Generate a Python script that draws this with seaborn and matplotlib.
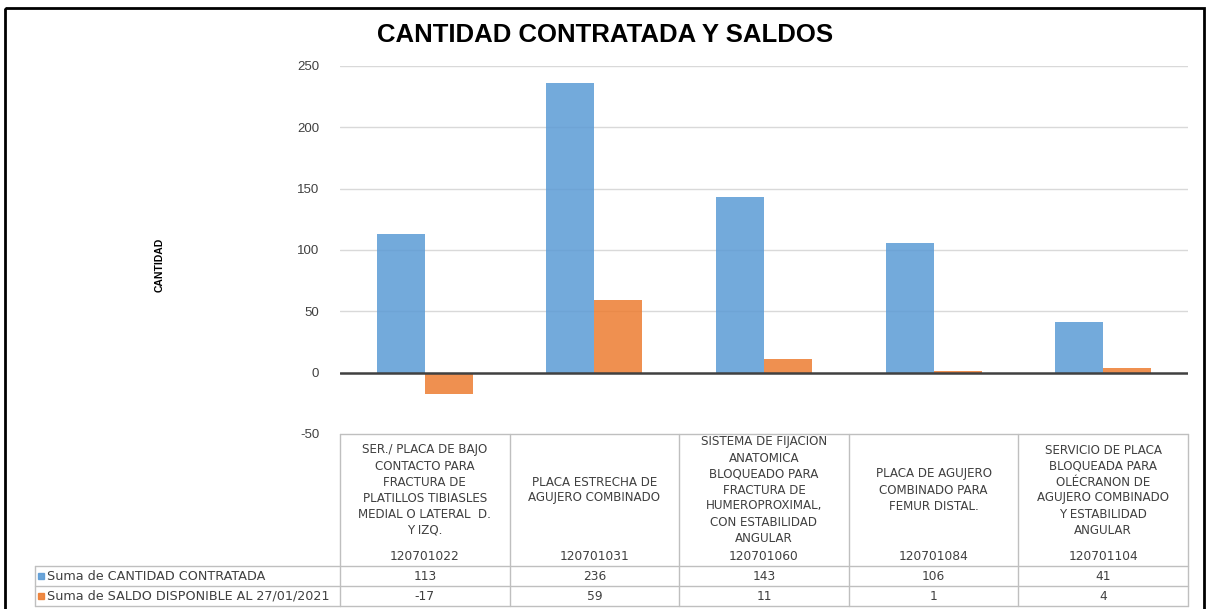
import numpy as np
import pandas as pd
import matplotlib
matplotlib.use("Agg")
import matplotlib.pyplot as plt
import matplotlib.transforms as mtransforms
from matplotlib.patches import Rectangle
import seaborn as sns

# ----------------------------------------------------------------------
# DATA
# ----------------------------------------------------------------------
codes = ["120701022", "120701031", "120701060", "120701084", "120701104"]
descriptions = [
    "SER./ PLACA DE BAJO\nCONTACTO PARA\nFRACTURA DE\nPLATILLOS TIBIASLES\nMEDIAL O LATERAL  D.\nY IZQ.",
    "PLACA ESTRECHA DE\nAGUJERO COMBINADO",
    "SISTEMA DE FIJACION\nANATOMICA\nBLOQUEADO PARA\nFRACTURA DE\nHUMEROPROXIMAL,\nCON ESTABILIDAD\nANGULAR",
    "PLACA DE AGUJERO\nCOMBINADO PARA\nFEMUR DISTAL.",
    "SERVICIO DE PLACA\nBLOQUEADA PARA\nOLÉCRANON DE\nAGUJERO COMBINADO\nY ESTABILIDAD\nANGULAR",
]
series_names = ["Suma de CANTIDAD CONTRATADA", "Suma de SALDO DISPONIBLE AL 27/01/2021"]
cantidad_contratada = [113, 236, 143, 106, 41]
saldo_disponible = [-17, 59, 11, 1, 4]
y_ticks = [-50, 0, 50, 100, 150, 200, 250]

BLUE = "#5B9BD5"
ORANGE = "#ED7D31"
GRID = "#D9D9D9"
TABLE_LINE = "#BFBFBF"
TEXT = "#404040"
TABLE_FONT = ["DejaVu Sans"]

df = pd.DataFrame({
    "codigo": codes * 2,
    "serie": [series_names[0]] * 5 + [series_names[1]] * 5,
    "valor": cantidad_contratada + saldo_disponible,
})

sns.set_theme(style="white")
plt.rcParams["font.family"] = ["Liberation Sans", "DejaVu Sans"]

W, H = 1208, 609
fig = plt.figure(figsize=(W / 100, H / 100), dpi=100)

# overlay in pixel coordinates for border / table
ov = fig.add_axes([0, 0, 1, 1], zorder=0)
ov.set_xlim(0, W)
ov.set_ylim(H, 0)
ov.axis("off")

# main plot area (pixels: x 340-1188, y 66-434)
ax = fig.add_axes([340 / W, 1 - 434 / H, 848 / W, 368 / H], zorder=1)
ax.patch.set_alpha(0)

sns.barplot(
    data=df, x="codigo", y="valor", hue="serie", order=codes,
    hue_order=series_names, palette=[BLUE, ORANGE], width=0.566,
    saturation=1, ax=ax, legend=False, alpha=0.85, edgecolor="none", zorder=3,
)

ax.set_xlim(-0.5, len(codes) - 0.5)
ax.set_ylim(-50, 250)
ax.set_yticks(y_ticks)
ax.set_yticklabels([str(t) for t in y_ticks], fontsize=9.5, color=TEXT)
ax.tick_params(axis="y", length=0, pad=15)
ax.set_xticks([])
ax.set_xlabel("")
ax.set_ylabel("")
for t in y_ticks:
    if t not in (0, -50):
        ax.axhline(t, color=GRID, lw=1, zorder=1)
ax.axhline(0, color="#404040", lw=1.8, zorder=4)
for s in ax.spines.values():
    s.set_visible(False)

# title and axis label
fig.text(605 / W, 1 - 35 / H, "CANTIDAD CONTRATADA Y SALDOS", ha="center",
         va="center", fontsize=18.5, fontweight="bold", color="black")
fig.text(160 / W, 1 - 265 / H, "CANTIDAD", rotation=90, ha="center",
         va="center", fontsize=7.5, fontweight="bold", color="black",
         family=["Liberation Sans Narrow", "Liberation Sans", "DejaVu Sans"])

# outer border
ov.add_patch(Rectangle((5, 8), 1199, 610, fill=False, ec="black", lw=2))

# ----------------------------------------------------------------------
# DATA TABLE
# ----------------------------------------------------------------------
tr = mtransforms.blended_transform_factory(ax.transData, ov.transData)
n = len(codes)
top, hdr_bot, r1_bot, r2_bot = 434, 566, 586, 606
leg_left = 35

# horizontal lines
ov.plot([-0.5, n - 0.5], [top, top], color=TABLE_LINE, lw=1, transform=tr)
for yy in (hdr_bot, r1_bot, r2_bot):
    ov.plot([leg_left, 340], [yy, yy], color=TABLE_LINE, lw=1)
    ov.plot([-0.5, n - 0.5], [yy, yy], color=TABLE_LINE, lw=1, transform=tr)
# vertical lines
for i in range(n + 1):
    ov.plot([i - 0.5, i - 0.5], [top, r2_bot], color=TABLE_LINE, lw=1, transform=tr)
ov.plot([leg_left, leg_left], [hdr_bot, r2_bot], color=TABLE_LINE, lw=1)

for i in range(n):
    ov.text(i, 490, descriptions[i], transform=tr, ha="center", va="center",
            fontsize=8.6, color=TEXT, linespacing=1.3, family=TABLE_FONT)
    ov.text(i, 556, codes[i], transform=tr, ha="center", va="center",
            fontsize=8.8, color=TEXT, family=TABLE_FONT)
    ov.text(i, 576, str(cantidad_contratada[i]), transform=tr, ha="center",
            va="center", fontsize=8.8, color=TEXT, family=TABLE_FONT)
    ov.text(i, 596, str(saldo_disponible[i]), transform=tr, ha="center",
            va="center", fontsize=8.8, color=TEXT, family=TABLE_FONT)

for yy, name, col in zip((576, 596), series_names, (BLUE, ORANGE)):
    ov.add_patch(Rectangle((38, yy - 3.5), 6, 6, color=col, alpha=0.9))
    ov.text(47, yy, name, ha="left", va="center", fontsize=9.2, color=TEXT,
            family=TABLE_FONT)

fig.savefig("out.png", dpi=100)
